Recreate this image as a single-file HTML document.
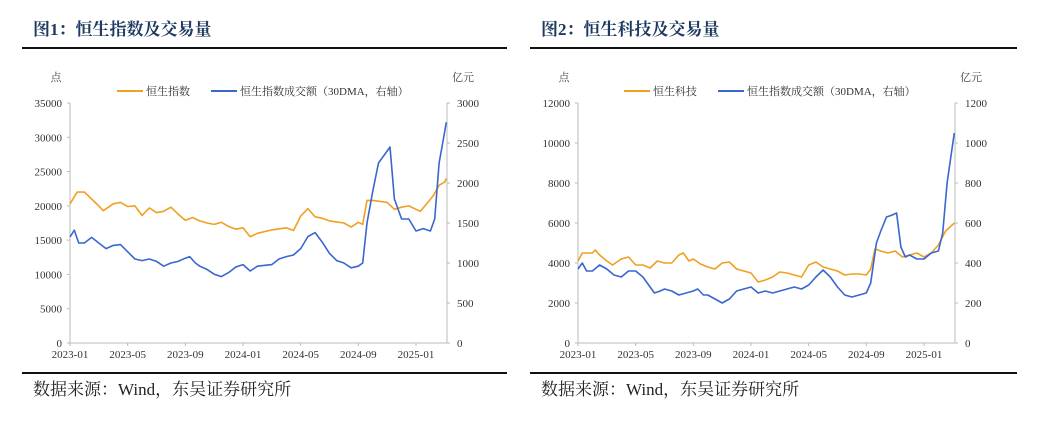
<!DOCTYPE html>
<html><head><meta charset="utf-8">
<style>
html,body{margin:0;padding:0;background:#fff;}
svg{display:block;}
text{font-family:"Liberation Serif","Noto Serif CJK SC",serif;}
</style></head>
<body>
<svg id="root" width="1039" height="423" viewBox="0 0 1039 423" xmlns="http://www.w3.org/2000/svg">
  <g>
    <text x="33" y="35" font-size="17" font-weight="bold" fill="#1f3a60">图1：恒生指数及交易量</text>
    <line x1="22" y1="48" x2="507" y2="48" stroke="#111" stroke-width="2"/>
  </g>
  <g>
    <text x="541" y="35" font-size="17" font-weight="bold" fill="#1f3a60">图2：恒生科技及交易量</text>
    <line x1="530" y1="48" x2="1017" y2="48" stroke="#111" stroke-width="2"/>
  </g>
  <g>
    <line x1="22" y1="373" x2="507" y2="373" stroke="#111" stroke-width="2"/>
    <text x="33" y="395" font-size="17" fill="#222">数据来源：Wind，东吴证券研究所</text>
  </g>
  <g>
    <line x1="530" y1="373" x2="1017" y2="373" stroke="#111" stroke-width="2"/>
    <text x="541" y="395" font-size="17" fill="#222">数据来源：Wind，东吴证券研究所</text>
  </g>
  <g id="c1"></g>
  <g id="c2"></g>
</svg>
<script>
// ---- shared ----
const xTickLabels = ["2023-01","2023-05","2023-09","2024-01","2024-05","2024-09","2025-01"];
const xTickMonths = [0,4,8,12,16,20,24];

// ---- chart 1 data ----
const c1LeftTicks = [0,5000,10000,15000,20000,25000,30000,35000];
const c1RightTicks = [0,500,1000,1500,2000,2500,3000];
const c1IdxT = [0,0.5,1,1.5,2,2.3,3,3.5,4,4.5,5,5.5,6,6.5,7,7.5,8,8.5,9,9.5,10,10.5,11,11.5,12,12.5,13,14,15,15.5,16,16.5,17,17.5,18,19,19.5,20,20.3,20.6,21,22,22.5,23,23.5,24,24.3,24.7,25.2,25.6,26,26.1];
const c1IdxV = [20300,22000,22000,21000,20000,19300,20300,20500,19900,20000,18600,19700,19000,19200,19800,18800,17900,18300,17800,17500,17300,17600,17000,16600,16800,15500,16000,16500,16800,16400,18500,19600,18400,18200,17800,17500,16900,17600,17300,20800,20800,20500,19500,19800,20000,19500,19200,20200,21500,23000,23500,24000];
const c1VolT = [0,0.3,0.6,1,1.5,2,2.5,3,3.5,4,4.5,5,5.5,6,6.5,7,7.5,8,8.3,8.7,9,9.5,10,10.5,11,11.5,12,12.5,13,14,14.5,15,15.5,16,16.5,17,17.5,18,18.5,19,19.5,20,20.3,20.6,21,21.4,21.8,22.2,22.5,23,23.5,24,24.5,25,25.3,25.6,25.9,26.1];
const c1VolV = [1325,1410,1250,1250,1320,1250,1180,1220,1230,1140,1050,1030,1050,1020,960,1000,1020,1060,1080,1000,960,920,860,830,880,950,980,900,960,980,1050,1080,1100,1180,1330,1380,1260,1120,1030,1000,940,960,1000,1500,1900,2250,2350,2450,1800,1550,1550,1400,1430,1400,1550,2250,2550,2760];

// ---- chart 2 data ----
const c2LeftTicks = [0,2000,4000,6000,8000,10000,12000];
const c2RightTicks = [0,200,400,600,800,1000,1200];
const c2IdxT = [0,0.3,1,1.2,1.5,2,2.4,3,3.5,4,4.5,5,5.5,6,6.5,7,7.3,7.7,8,8.5,9,9.5,10,10.5,11,11.5,12,12.5,13,13.5,14,14.5,15,15.5,16,16.5,17,17.5,18,18.5,19,19.5,20,20.3,20.6,21,21.5,22,22.5,23,23.5,24,24.5,25,25.5,25.8,26.1];
const c2IdxV = [4100,4500,4500,4650,4400,4100,3900,4200,4300,3900,3900,3750,4100,4000,4000,4400,4500,4100,4200,3950,3800,3700,4000,4050,3700,3600,3500,3050,3150,3300,3550,3500,3400,3300,3900,4050,3800,3700,3600,3400,3450,3450,3400,3700,4700,4600,4500,4600,4300,4400,4500,4300,4500,4900,5600,5800,6000];
const c2VolT = [0,0.3,0.6,1,1.5,2,2.5,3,3.5,4,4.5,5,5.3,5.7,6,6.5,7,7.5,8,8.3,8.7,9,9.5,10,10.5,11,11.5,12,12.5,13,13.5,14,14.5,15,15.5,16,16.5,17,17.5,18,18.5,19,19.5,20,20.3,20.7,21,21.4,21.8,22.1,22.4,22.7,23,23.5,24,24.5,25,25.3,25.6,25.9,26.1];
const c2VolV = [370,400,360,360,390,370,340,330,360,360,330,280,250,260,270,260,240,250,260,270,240,240,220,200,220,260,270,280,250,260,250,260,270,280,270,290,330,365,330,280,240,230,240,250,300,500,560,630,640,650,480,430,440,420,420,450,460,550,800,950,1050];

const NS = "http://www.w3.org/2000/svg";
function mk(parent, tag, attrs, text) {
  const e = document.createElementNS(NS, tag);
  for (const k in attrs) e.setAttribute(k, attrs[k]);
  if (text !== undefined) e.textContent = text;
  parent.appendChild(e);
  return e;
}

function drawChart(gid, cfg) {
  const g = document.getElementById(gid);
  const L = cfg.left, R = cfg.right, T = 103, B = 343;
  const monthPx = 346 / 24;
  const xs = t => L + t * monthPx;
  const yl = v => B - v / cfg.lMax * (B - T);
  const yr = v => B - v / cfg.rMax * (B - T);

  // axes
  const ax = mk(g, 'line', {x1:L, y1:T, x2:L, y2:B, stroke:'#bbb', 'stroke-width':1});
  
  
  const ax2 = mk(g, 'line', {x1:R, y1:T, x2:R, y2:B, stroke:'#bbb', 'stroke-width':1});
  
  
  const ax3 = mk(g, 'line', {x1:L, y1:B, x2:R, y2:B, stroke:'#bbb', 'stroke-width':1});
  
  

  cfg.lTicks.forEach(v => {
    const y = yl(v);
    mk(g, 'line', {x1:L-3, y1:y, x2:L, y2:y, stroke:'#bbb'});
    const t = mk(g, 'text', {x:L-8, y:y+4, 'font-size':11, 'text-anchor':'end', fill:'#333'}, String(v));
    
    
  });
  cfg.rTicks.forEach(v => {
    const y = yr(v);
    mk(g, 'line', {x1:R, y1:y, x2:R+3, y2:y, stroke:'#bbb'});
    const t = mk(g, 'text', {x:R+10, y:y+4, 'font-size':11, 'text-anchor':'start', fill:'#333'}, String(v));
    
    
  });
  xTickMonths.forEach((m, i) => {
    const x = xs(m);
    mk(g, 'line', {x1:x, y1:B, x2:x, y2:B+3, stroke:'#bbb'});
    const t = mk(g, 'text', {x:x, y:B+15, 'font-size':11, 'text-anchor':'middle', fill:'#333'}, xTickLabels[i]);
    
    
  });

  const u1 = mk(g, 'text', {x:L-14, y:81, 'font-size':11, fill:'#444', 'text-anchor':'middle'}, '点');
  
  
  const u2 = mk(g, 'text', {x:R+16, y:81, 'font-size':11, fill:'#444', 'text-anchor':'middle'}, '亿元');
  
  

  // legend
  const lg = mk(g, 'g', {});
  
  
  mk(lg, 'line', {x1:cfg.legX, y1:91, x2:cfg.legX+26, y2:91, stroke:'#f0a020', 'stroke-width':2});
  const le1 = mk(lg, 'text', {x:cfg.legX+29, y:95, 'font-size':11, fill:'#333'}, cfg.name1);
  
  
  mk(lg, 'line', {x1:cfg.legX2, y1:91, x2:cfg.legX2+26, y2:91, stroke:'#3a66d0', 'stroke-width':2});
  const le2 = mk(lg, 'text', {x:cfg.legX2+29, y:95, 'font-size':11, fill:'#333'}, '恒生指数成交额（30DMA，右轴）');
  
  

  // series
  const d1 = cfg.idxT.map((t, i) => (i ? 'L' : 'M') + xs(t).toFixed(1) + ',' + yl(cfg.idxV[i]).toFixed(1)).join('');
  const p1 = mk(g, 'path', {d:d1, fill:'none', stroke:'#f0a020', 'stroke-width':1.6, 'stroke-linejoin':'round'});
  
  
  const d2 = cfg.volT.map((t, i) => (i ? 'L' : 'M') + xs(t).toFixed(1) + ',' + yr(cfg.volV[i]).toFixed(1)).join('');
  const p2 = mk(g, 'path', {d:d2, fill:'none', stroke:'#3a66d0', 'stroke-width':1.6, 'stroke-linejoin':'round'});
  
  
}

drawChart('c1', {left:70, right:447, lMax:35000, rMax:3000, lTicks:c1LeftTicks, rTicks:c1RightTicks,
  idxT:c1IdxT, idxV:c1IdxV, volT:c1VolT, volV:c1VolV, name1:'恒生指数', legX:117, legX2:211});
drawChart('c2', {left:578, right:955, lMax:12000, rMax:1200, lTicks:c2LeftTicks, rTicks:c2RightTicks,
  idxT:c2IdxT, idxV:c2IdxV, volT:c2VolT, volV:c2VolV, name1:'恒生科技', legX:624, legX2:718});
</script>
</body></html>
